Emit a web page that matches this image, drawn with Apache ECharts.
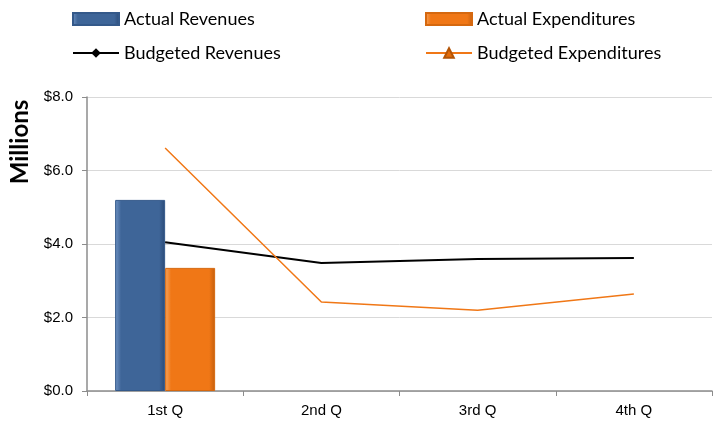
<!DOCTYPE html>
<html>
<head>
<meta charset="utf-8">
<script src="https://cdn.jsdelivr.net/npm/echarts@6/dist/echarts.min.js"></script>
<style>
  html, body { margin: 0; padding: 0; background: #fff; }
  #chart { width: 714px; height: 421px; }
</style>
</head>
<body>
<div id="chart"></div>
<script>
// Quarterly revenues and expenditures, in millions of dollars
const quarters = ['1st Q', '2nd Q', '3rd Q', '4th Q'];
const actualRevenues = [5.20, null, null, null];
const actualExpenditures = [3.35, null, null, null];
const budgetedRevenues = [4.05, 3.48, 3.59, 3.62];
const budgetedExpenditures = [6.61, 2.42, 2.20, 2.64];
const yTicks = [0, 2, 4, 6, 8];

const chart = echarts.init(document.getElementById('chart'));

function bevel(edgeLight, main, edgeDark) {
  return new echarts.graphic.LinearGradient(0, 0, 1, 0, [
    { offset: 0, color: edgeLight },
    { offset: 0.12, color: main },
    { offset: 0.88, color: main },
    { offset: 1, color: edgeDark }
  ]);
}

const legendText = { fontFamily: 'Lato', fontSize: 18, color: '#000' };
const legendBase = {
  orient: 'vertical', top: 5,
  itemWidth: 46, itemHeight: 12, itemGap: 16,
  textStyle: legendText
};

chart.setOption({
  animation: false,
  backgroundColor: '#fff',
  grid: { left: 87, right: 2, top: 97, bottom: 30 },
  legend: [
    Object.assign({}, legendBase, {
      left: 67,
      data: [
        { name: 'Actual Revenues', icon: 'rect' },
        { name: 'Budgeted Revenues' }
      ]
    }),
    Object.assign({}, legendBase, {
      left: 420,
      data: [
        { name: 'Actual Expenditures', icon: 'rect' },
        { name: 'Budgeted Expenditures' }
      ]
    })
  ],
  graphic: [{
    type: 'text', x: 20, y: 142, rotation: Math.PI / 2,
    style: {
      text: 'Millions', fontFamily: 'Lato', fontWeight: 'bold', fontSize: 24,
      fill: '#000', align: 'center', verticalAlign: 'middle'
    }
  }],
  xAxis: {
    type: 'category', data: quarters, boundaryGap: true,
    axisLine: { lineStyle: { color: '#8c8c8c', width: 1.5 } },
    axisTick: { show: true, alignWithLabel: false, length: 5, lineStyle: { color: '#8c8c8c' } },
    axisLabel: { fontFamily: 'Liberation Sans', fontSize: 15, color: '#000', margin: 12 }
  },
  yAxis: {
    type: 'value', min: yTicks[0], max: yTicks[yTicks.length - 1], interval: 2,
    axisLine: { show: true, lineStyle: { color: '#8c8c8c', width: 1.5 } },
    axisTick: { show: true, length: 5, lineStyle: { color: '#8c8c8c' } },
    splitLine: { lineStyle: { color: '#d9d9d9', width: 1 } },
    axisLabel: {
      fontFamily: 'Liberation Sans', fontSize: 15, color: '#000', margin: 14,
      formatter: v => '$' + v.toFixed(1)
    }
  },
  series: [
    {
      name: 'Actual Revenues', type: 'bar', data: actualRevenues,
      barGap: '0%', barCategoryGap: '36%',
      itemStyle: {
        color: bevel('#6f93c4', '#3e6598', '#2a4a77'),
        borderColor: '#34598a', borderWidth: 1
      }
    },
    {
      name: 'Actual Expenditures', type: 'bar', data: actualExpenditures,
      itemStyle: {
        color: bevel('#f7a660', '#f07716', '#c45e0c'),
        borderColor: '#d5680f', borderWidth: 1
      }
    },
    {
      name: 'Budgeted Revenues', type: 'line', data: budgetedRevenues,
      symbol: 'diamond', symbolSize: 6, showSymbol: false,
      itemStyle: { color: '#000' },
      lineStyle: { color: '#000', width: 2 }
    },
    {
      name: 'Budgeted Expenditures', type: 'line', data: budgetedExpenditures,
      symbol: 'triangle', symbolSize: 13, showSymbol: false,
      itemStyle: { color: '#e36c0a', borderColor: '#b35406', borderWidth: 1 },
      lineStyle: { color: '#f07716', width: 1.5 }
    }
  ]
});
</script>
</body>
</html>
